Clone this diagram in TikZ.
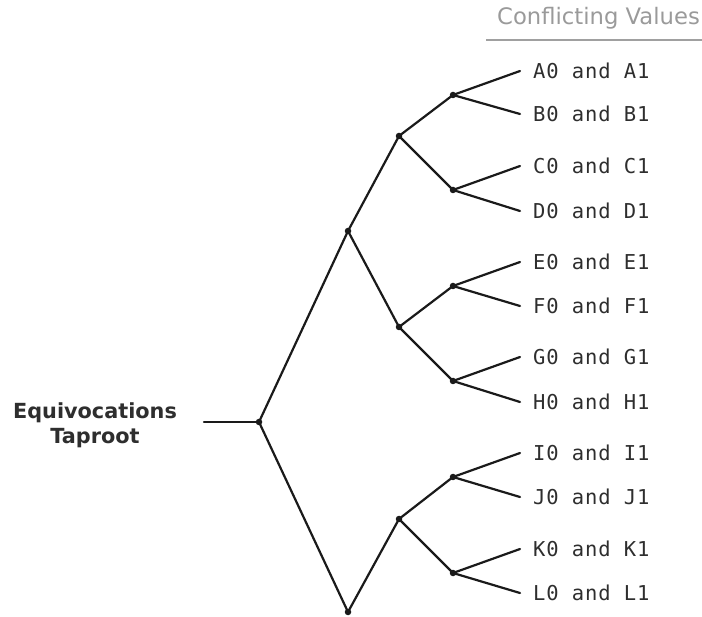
\documentclass[tikz,border=0pt]{standalone}
\usepackage{fontspec}
\setmainfont{DejaVu Sans}
\newfontfamily\leafmono[LetterSpace=4.2]{DejaVu Sans Mono}
\newfontfamily\labfont{DejaVu Sans}
\definecolor{linec}{HTML}{1A1A1A}
\definecolor{textc}{HTML}{2E2E2E}
\definecolor{headc}{HTML}{9A9A9A}
\definecolor{rulec}{HTML}{A0A0A0}
\begin{document}
\begin{tikzpicture}[x=1pt,y=-1pt,
  dot/.style={circle,fill=linec,minimum size=6.5pt,inner sep=0pt},
  leaf/.style={anchor=west,inner sep=0pt,inner xsep=13pt,text=textc,font=\leafmono\fontsize{20.5}{24}\selectfont},
  edge/.style={draw=linec,line width=2.2pt,line cap=round},
]
\useasboundingbox (0,0) rectangle (702,617);
% header
\node[anchor=east,inner sep=0pt,text=headc,font=\labfont\fontsize{22.7}{26}\selectfont] (head) at (700,18) {Conflicting Values};
\coordinate (rl) at (486,40);
\coordinate (rr) at (702,40);
\draw[draw=rulec,line width=2pt] (rl) -- (rr);
% root label
\node[align=center,text=textc,font=\labfont\bfseries\fontsize{20.8}{25}\selectfont,inner sep=0pt] (lab) at (95,425) {Equivocations\\Taproot};
\coordinate (start) at (204,422);
% internal nodes
\node[dot] (r) at (259,422) {};
\node[dot] (a) at (348,231) {};
\node[dot] (b) at (348,612) {};
\node[dot] (a1) at (399,136) {};
\node[dot] (a2) at (399,327) {};
\node[dot] (b1) at (399,519) {};
\node[dot] (p1) at (453,95) {};
\node[dot] (p2) at (453,190) {};
\node[dot] (p3) at (453,286) {};
\node[dot] (p4) at (453,381) {};
\node[dot] (p5) at (453,477) {};
\node[dot] (p6) at (453,573) {};
% leaves
\node[leaf] (lA) at (520,71) {A0 and A1};
\node[leaf] (lB) at (520,114) {B0 and B1};
\node[leaf] (lC) at (520,166) {C0 and C1};
\node[leaf] (lD) at (520,211) {D0 and D1};
\node[leaf] (lE) at (520,262) {E0 and E1};
\node[leaf] (lF) at (520,306) {F0 and F1};
\node[leaf] (lG) at (520,357) {G0 and G1};
\node[leaf] (lH) at (520,402) {H0 and H1};
\node[leaf] (lI) at (520,453) {I0 and I1};
\node[leaf] (lJ) at (520,497) {J0 and J1};
\node[leaf] (lK) at (520,549) {K0 and K1};
\node[leaf] (lL) at (520,593) {L0 and L1};
% edges
\path[edge] (start) -- (r.center);
\path[edge] (r.center) -- (a.center);
\path[edge] (r.center) -- (b.center);
\path[edge] (a.center) -- (a1.center);
\path[edge] (a.center) -- (a2.center);
\path[edge] (b.center) -- (b1.center);
\path[edge] (a1.center) -- (p1.center);
\path[edge] (a1.center) -- (p2.center);
\path[edge] (a2.center) -- (p3.center);
\path[edge] (a2.center) -- (p4.center);
\path[edge] (b1.center) -- (p5.center);
\path[edge] (b1.center) -- (p6.center);
\path[edge] (p1.center) -- (lA.west);
\path[edge] (p1.center) -- (lB.west);
\path[edge] (p2.center) -- (lC.west);
\path[edge] (p2.center) -- (lD.west);
\path[edge] (p3.center) -- (lE.west);
\path[edge] (p3.center) -- (lF.west);
\path[edge] (p4.center) -- (lG.west);
\path[edge] (p4.center) -- (lH.west);
\path[edge] (p5.center) -- (lI.west);
\path[edge] (p5.center) -- (lJ.west);
\path[edge] (p6.center) -- (lK.west);
\path[edge] (p6.center) -- (lL.west);
\end{tikzpicture}
\end{document}
